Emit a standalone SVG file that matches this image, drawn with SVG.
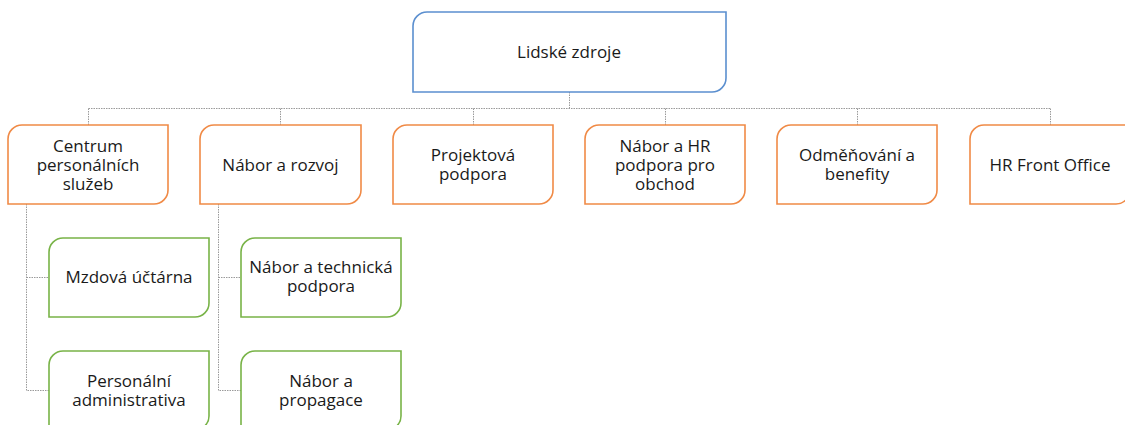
<svg xmlns="http://www.w3.org/2000/svg" width="1125" height="425" viewBox="0 0 1125 425">
<style>
.box{fill:#fff;stroke-width:1.6}
.blue{stroke:#5b8fcf}
.orange{stroke:#f08a46}
.green{stroke:#78b347}
.conn{fill:none;stroke:#9a9a9a;stroke-width:1;stroke-dasharray:1.5,1}
text{font-family:"Open Sans","Liberation Sans",sans-serif;font-size:17px;fill:#1a1a1a;text-anchor:middle}
</style>
<rect width="1125" height="425" fill="#fff"/>
<g id="connectors">
<path class="conn" d="M569.5,92 V108.5 M88.5,108.5 H1050.5 M88.5,108.5 V125 M280.5,108.5 V125 M473.5,108.5 V125 M665.5,108.5 V125 M857.5,108.5 V125 M1050.5,108.5 V125"/>
<path class="conn" d="M26.5,204 V390.5 H49 M26.5,277.5 H49"/>
<path class="conn" d="M218.5,204 V390.5 H241 M218.5,277.5 H241"/>
</g>
<g id="n-lidske-zdroje">
<path class="box blue" d="M427,12 H726 V78 A14,14 0 0 1 712,92 H413 V26 A14,14 0 0 1 427,12 Z"/>
<text x="569" y="58">Lidské zdroje</text>
</g>
<g id="n-centrum">
<path class="box orange" d="M22,125 H168 V190 A14,14 0 0 1 154,204 H8 V139 A14,14 0 0 1 22,125 Z"/>
<text x="88" y="152">Centrum</text>
<text x="88" y="171">personálních</text>
<text x="88" y="190">služeb</text>
</g>
<g id="n-nabor-rozvoj">
<path class="box orange" d="M214,125 H361 V190 A14,14 0 0 1 347,204 H200 V139 A14,14 0 0 1 214,125 Z"/>
<text x="280.5" y="171">Nábor a rozvoj</text>
</g>
<g id="n-projektova">
<path class="box orange" d="M407,125 H553 V190 A14,14 0 0 1 539,204 H393 V139 A14,14 0 0 1 407,125 Z"/>
<text x="473" y="161">Projektová</text>
<text x="473" y="180">podpora</text>
</g>
<g id="n-nabor-hr">
<path class="box orange" d="M599,125 H745 V190 A14,14 0 0 1 731,204 H585 V139 A14,14 0 0 1 599,125 Z"/>
<text x="665" y="152">Nábor a HR</text>
<text x="665" y="171">podpora pro</text>
<text x="665" y="190">obchod</text>
</g>
<g id="n-odmenovani">
<path class="box orange" d="M791,125 H937 V190 A14,14 0 0 1 923,204 H777 V139 A14,14 0 0 1 791,125 Z"/>
<text x="857" y="161">Odměňování a</text>
<text x="857" y="180">benefity</text>
</g>
<g id="n-hr-front-office">
<path class="box orange" d="M984,125 H1130 V190 A14,14 0 0 1 1116,204 H970 V139 A14,14 0 0 1 984,125 Z"/>
<text x="1050" y="171">HR Front Office</text>
</g>
<g id="n-mzdova">
<path class="box green" d="M63,238 H209 V303 A14,14 0 0 1 195,317 H49 V252 A14,14 0 0 1 63,238 Z"/>
<text x="129" y="283">Mzdová účtárna</text>
</g>
<g id="n-personalni">
<path class="box green" d="M63,351 H209 V416 A14,14 0 0 1 195,430 H49 V365 A14,14 0 0 1 63,351 Z"/>
<text x="129" y="387">Personální</text>
<text x="129" y="406">administrativa</text>
</g>
<g id="n-nabor-technicka">
<path class="box green" d="M255,238 H401 V303 A14,14 0 0 1 387,317 H241 V252 A14,14 0 0 1 255,238 Z"/>
<text x="321" y="273">Nábor a technická</text>
<text x="321" y="292">podpora</text>
</g>
<g id="n-nabor-propagace">
<path class="box green" d="M255,351 H401 V416 A14,14 0 0 1 387,430 H241 V365 A14,14 0 0 1 255,351 Z"/>
<text x="321" y="387">Nábor a</text>
<text x="321" y="406">propagace</text>
</g>
</svg>
